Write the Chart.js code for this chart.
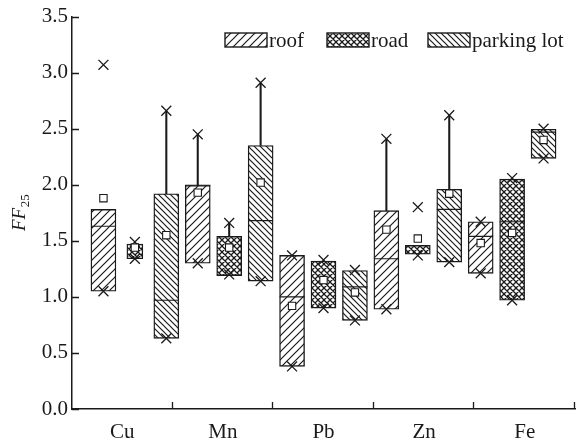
<!DOCTYPE html>
<html><head><meta charset="utf-8">
<script src="https://cdn.jsdelivr.net/npm/chart.js@4.4.0/dist/chart.umd.min.js"></script>
<style>html,body{margin:0;padding:0;background:#fff}</style>
</head><body>
<canvas id="c" width="576" height="445"></canvas>
<script>
// ---------- DATA ----------
const elements = ['Cu', 'Mn', 'Pb', 'Zn', 'Fe'];
const seriesNames = ['roof', 'road', 'parking lot'];
const yTickValues = [0, 0.5, 1.0, 1.5, 2.0, 2.5, 3.0, 3.5];

// roof
const roofQ1      = [1.05, 1.30, 0.38, 0.89, 1.21];
const roofQ3      = [1.78, 2.00, 1.37, 1.77, 1.67];
const roofMedian  = [1.63, 1.99, 1.00, 1.34, 1.54];
const roofMean    = [1.88, 1.93, 0.92, 1.60, 1.48];
const roofMax     = [3.07, 2.45, 1.37, 2.41, 1.67];
const roofMin     = [1.05, 1.30, 0.38, 0.89, 1.21];
const roofWhisker = [null, 2.45, null, 2.41, null];

// road
const roadQ1      = [1.34, 1.19, 0.90, 1.38, 0.97];
const roadQ3      = [1.47, 1.54, 1.32, 1.46, 2.05];
const roadMedian  = [null, null, null, null, 1.67];
const roadMean    = [1.44, 1.44, 1.15, 1.52, 1.57];
const roadMax     = [1.49, 1.66, 1.33, 1.80, 2.06];
const roadMin     = [1.34, 1.20, 0.90, 1.37, 0.97];
const roadWhisker = [null, 1.66, null, null, null];

// parking lot
const parkQ1      = [0.63, 1.14, 0.79, 1.31, 2.235];
const parkQ3      = [1.92, 2.35, 1.235, 1.96, 2.495];
const parkMedian  = [0.97, 1.68, 1.09, 1.78, 2.47];
const parkMean    = [1.55, 2.02, 1.04, 1.92, 2.40];
const parkMax     = [2.66, 2.91, 1.24, 2.62, 2.50];
const parkMin     = [0.63, 1.14, 0.79, 1.31, 2.235];
const parkWhisker = [2.66, 2.91, null, 2.62, null];

// ---------- BUILD ----------
const nSeries = seriesNames.length;
const xMax = elements.length * nSeries + 1;
const slot = (g, s) => g * nSeries + s + 1;
const narrowRoad = [0]; // element indices drawn with a narrower road box

const canvas = document.getElementById('c');
const mainCtx = canvas.getContext('2d');

function makePattern(kind) {
  const s = kind === 'roof' ? 8 : 6;
  const c = document.createElement('canvas');
  c.width = s; c.height = s;
  const x = c.getContext('2d');
  x.fillStyle = '#fff'; x.fillRect(0, 0, s, s);
  x.strokeStyle = '#1a1a1a';
  x.lineWidth = kind === 'road' ? 1.3 : 1.2;
  x.beginPath();
  if (kind === 'roof' || kind === 'road') {
    x.moveTo(-1, s + 1); x.lineTo(s + 1, -1);
    x.moveTo(-1, 1); x.lineTo(1, -1);
    x.moveTo(s - 1, s + 1); x.lineTo(s + 1, s - 1);
  }
  if (kind === 'park' || kind === 'road') {
    x.moveTo(-1, -1); x.lineTo(s + 1, s + 1);
    x.moveTo(s - 1, -1); x.lineTo(s + 1, 1);
    x.moveTo(-1, s - 1); x.lineTo(1, s + 1);
  }
  x.stroke();
  return mainCtx.createPattern(c, 'repeat');
}
const patterns = [makePattern('roof'), makePattern('road'), makePattern('park')];

const Q1 = [roofQ1, roadQ1, parkQ1];
const Q3 = [roofQ3, roadQ3, parkQ3];
const MED = [roofMedian, roadMedian, parkMedian];
const MEAN = [roofMean, roadMean, parkMean];
const MAXV = [roofMax, roadMax, parkMax];
const MINV = [roofMin, roadMin, parkMin];
const WHI = [roofWhisker, roadWhisker, parkWhisker];

const datasets = [];
const boxStyle = { borderColor: '#1a1a1a', borderWidth: 1.4, borderSkipped: false, grouped: false, order: 10 };

for (let s = 0; s < nSeries; s++) {
  const wide = [], narrow = [];
  elements.forEach((_, g) => {
    const pt = { x: slot(g, s), y: [Q1[s][g], Q3[s][g]] };
    if (s === 1 && narrowRoad.includes(g)) narrow.push(pt); else wide.push(pt);
  });
  datasets.push(Object.assign({ type: 'bar', label: seriesNames[s], data: wide,
    backgroundColor: patterns[s], barThickness: 25 }, boxStyle));
  if (narrow.length) datasets.push(Object.assign({ type: 'bar', label: '_narrow', data: narrow,
    backgroundColor: patterns[s], barThickness: 16 }, boxStyle));
}

// whiskers
const whiskerData = [];
for (let s = 0; s < nSeries; s++) elements.forEach((_, g) => {
  if (WHI[s][g] != null) whiskerData.push({ x: slot(g, s), y: [Q3[s][g], WHI[s][g]] });
});
datasets.push({ type: 'bar', label: '_whisker', data: whiskerData, backgroundColor: '#1a1a1a',
  borderWidth: 0, barThickness: 1.4, grouped: false, order: 11 });

// medians
const medData = [];
for (let s = 0; s < nSeries; s++) elements.forEach((_, g) => {
  if (MED[s][g] != null) medData.push({ x: slot(g, s), y: MED[s][g] });
});
datasets.push({ type: 'scatter', label: '_median', data: medData, pointStyle: 'line',
  pointRadius: 12.5, borderColor: '#1a1a1a', borderWidth: 1.2, order: 2 });

// extreme markers
const xData = [];
for (let s = 0; s < nSeries; s++) elements.forEach((_, g) => {
  xData.push({ x: slot(g, s), y: MAXV[s][g] });
  xData.push({ x: slot(g, s), y: MINV[s][g] });
});
datasets.push({ type: 'scatter', label: '_extreme', data: xData, pointStyle: 'crossRot',
  pointRadius: 7, borderColor: '#1a1a1a', borderWidth: 1.3, order: 1 });

// means
const meanData = [];
for (let s = 0; s < nSeries; s++) elements.forEach((_, g) => {
  meanData.push({ x: slot(g, s), y: MEAN[s][g] });
});
datasets.push({ type: 'scatter', label: '_mean', data: meanData, pointStyle: 'rect',
  pointRadius: 5.2, backgroundColor: '#fff', borderColor: '#1a1a1a', borderWidth: 1.1, order: 0 });

const FONT = 'Liberation Serif';

const decor = {
  id: 'decor',
  afterDraw(chart) {
    const ctx = chart.ctx, xs = chart.scales.x, ys = chart.scales.y;
    ctx.save();
    ctx.strokeStyle = '#1a1a1a'; ctx.lineWidth = 1.3;
    ctx.beginPath();
    yTickValues.forEach(v => {
      const py = Math.round(ys.getPixelForValue(v)) + 0.5;
      ctx.moveTo(xs.left, py); ctx.lineTo(xs.left + 7, py);
    });
    elements.forEach((_, i) => {
      const px = Math.round(xs.getPixelForValue((i + 1) * xMax / elements.length)) - 0.5;
      ctx.moveTo(px, ys.bottom); ctx.lineTo(px, ys.bottom - 7);
    });
    ctx.stroke();

    // y title FF25
    ctx.fillStyle = '#1a1a1a';
    ctx.translate(25, 231);
    ctx.rotate(-Math.PI / 2);
    ctx.font = 'italic 19px "' + FONT + '"';
    ctx.textBaseline = 'alphabetic';
    ctx.textAlign = 'left';
    ctx.fillText('FF', 0, 0);
    const w = ctx.measureText('FF').width;
    ctx.font = '13px "' + FONT + '"';
    ctx.fillText('25', w + 0.5, 4);
    ctx.restore();

    // legend
    ctx.save();
    const items = [{ x: 225 }, { x: 327 }, { x: 428 }];
    ctx.font = '21px "' + FONT + '"';
    ctx.textBaseline = 'middle';
    seriesNames.forEach((name, i) => {
      const bx = items[i].x, by = 33, bw = 42, bh = 14;
      ctx.fillStyle = patterns[i];
      ctx.fillRect(bx, by, bw, bh);
      ctx.strokeStyle = '#1a1a1a'; ctx.lineWidth = 1.4;
      ctx.strokeRect(bx, by, bw, bh);
      ctx.fillStyle = '#1a1a1a';
      ctx.fillText(name, bx + bw + 2, by + bh / 2 + 1);
    });
    ctx.restore();
  }
};

new Chart(canvas, {
  type: 'bar',
  data: { datasets },
  options: {
    responsive: false,
    animation: false,
    devicePixelRatio: 1,
    layout: { autoPadding: false, padding: { top: 16, right: 1, left: 0, bottom: 0 } },
    plugins: { legend: { display: false }, tooltip: { enabled: false } },
    scales: {
      x: {
        type: 'linear', min: 0, max: xMax, offset: false,
        grid: { display: false, drawTicks: false },
        border: { display: true, color: '#1a1a1a', width: 1.5 },
        afterBuildTicks: sc => { sc.ticks = elements.map((_, i) => ({ value: (i + 0.5) * xMax / elements.length })); },
        afterFit: sc => { sc.height = 36; sc.paddingLeft = 0; sc.paddingRight = 0; },
        ticks: { autoSkip: false, maxRotation: 0, padding: 11, color: '#1a1a1a',
          font: { family: FONT, size: 21 }, callback: (v, i) => elements[i] }
      },
      y: {
        min: 0, max: 3.5,
        grid: { display: false, drawTicks: false },
        border: { display: true, color: '#1a1a1a', width: 1.5 },
        afterBuildTicks: sc => { sc.ticks = yTickValues.map(v => ({ value: v })); },
        afterFit: sc => { sc.width = 72; },
        ticks: { padding: 4, color: '#1a1a1a', font: { family: FONT, size: 21 },
          callback: v => Number(v).toFixed(1) }
      }
    }
  },
  plugins: [decor]
});
</script>
</body></html>
